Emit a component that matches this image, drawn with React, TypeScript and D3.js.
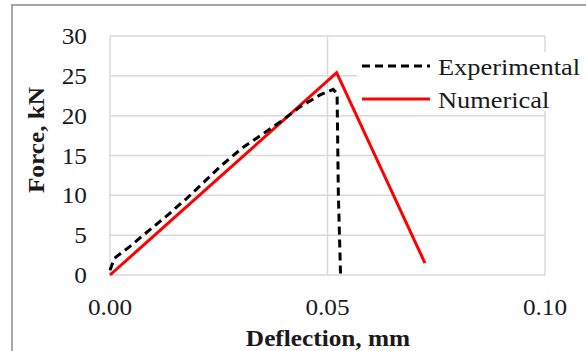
import React from "react";
import * as d3 from "d3";

// values
const expDeflection = [0, 0.001, 0.0046, 0.0092, 0.013, 0.0176, 0.0207, 0.0255, 0.0303, 0.0391, 0.0437, 0.0483, 0.0513, 0.0522, 0.0525, 0.053];
const expForce = [0.6, 2.1, 3.6, 5.7, 7.4, 9.6, 11.2, 13.7, 15.9, 19.2, 21.1, 22.6, 23.3, 22.8, 10, 0];
const numDeflection = [0, 0.0521, 0.0724];
const numForce = [0, 25.4, 1.5];

const xTicks = [0, 0.05, 0.1];
const yTicks = [0, 5, 10, 15, 20, 25, 30];
const seriesNames = ["Experimental", "Numerical"];

const W = 586;
const H = 351;
const font = "'Liberation Serif', 'Times New Roman', serif";
const stretch = 1.1;

const App: React.FC = () => {
    const x = d3.scaleLinear().domain([0, 0.1]).range([110, 545]);
    const y = d3.scaleLinear().domain([0, 30]).range([275, 36]);

    const line = d3
        .line<[number, number]>()
        .x((d) => x(d[0]))
        .y((d) => y(d[1]));

    const expPts = expDeflection.map((d, i) => [d, expForce[i]] as [number, number]);
    const numPts = numDeflection.map((d, i) => [d, numForce[i]] as [number, number]);

    const grid = "#d9d9d9";
    const ink = "#1a1a1a";

    return (
        <div style={{ position: "fixed", left: 0, top: 0 }}>
            <svg width={W} height={H} style={{ display: "block", background: "#fff" }}>
                {/* outer chart frame */}
                <rect x={12} y={5} width={W} height={H} fill="#fff" stroke="#a6a6a6" strokeWidth={2} />

                {/* gridlines */}
                {yTicks.map((t) => (
                    <line key={"gy" + t} x1={x(0)} x2={x(0.1)} y1={y(t)} y2={y(t)} stroke={grid} strokeWidth={1.5} />
                ))}
                {xTicks.map((t) => (
                    <line key={"gx" + t} x1={x(t)} x2={x(t)} y1={y(0)} y2={y(30)} stroke={grid} strokeWidth={1.5} />
                ))}

                {/* tick labels */}
                {yTicks.map((t) => (
                    <text
                        key={"ty" + t}
                        transform={`translate(87,${y(t) + 8}) scale(${stretch},1)`}
                        textAnchor="end"
                        fontFamily={font}
                        fontSize={23}
                        fill={ink}
                    >
                        {t}
                    </text>
                ))}
                {xTicks.map((t) => (
                    <text
                        key={"tx" + t}
                        transform={`translate(${x(t)},315) scale(${stretch},1)`}
                        textAnchor="middle"
                        fontFamily={font}
                        fontSize={23}
                        fill={ink}
                    >
                        {d3.format(".2f")(t)}
                    </text>
                ))}

                {/* series */}
                <path d={line(numPts)!} fill="none" stroke="#ff0000" strokeWidth={3} strokeLinejoin="miter" />
                <path d={line(expPts)!} fill="none" stroke="#000" strokeWidth={3} strokeDasharray="8,5" />

                {/* legend */}
                <rect x={357} y={52} width={W - 357} height={59} fill="#fff" />
                <line x1={362} x2={430} y1={66} y2={66} stroke="#000" strokeWidth={3} strokeDasharray="8,5" />
                <line x1={362} x2={430} y1={99} y2={99} stroke="#ff0000" strokeWidth={3} />
                <text transform={`translate(438,75) scale(${stretch},1)`} fontFamily={font} fontSize={24} fill={ink}>
                    {seriesNames[0]}
                </text>
                <text transform={`translate(438,108) scale(${stretch},1)`} fontFamily={font} fontSize={24} fill={ink}>
                    {seriesNames[1]}
                </text>

                {/* axis titles */}
                <text
                    transform={`translate(328,346) scale(${stretch},1)`}
                    textAnchor="middle"
                    fontFamily={font}
                    fontWeight="bold"
                    fontSize={23}
                    fill={ink}
                >
                    Deflection, mm
                </text>
                <text
                    transform={`translate(44,140) rotate(-90) scale(${stretch},1)`}
                    textAnchor="middle"
                    fontFamily={font}
                    fontWeight="bold"
                    fontSize={23}
                    fill={ink}
                >
                    Force, kN
                </text>
            </svg>
        </div>
    );
};

export default App;
